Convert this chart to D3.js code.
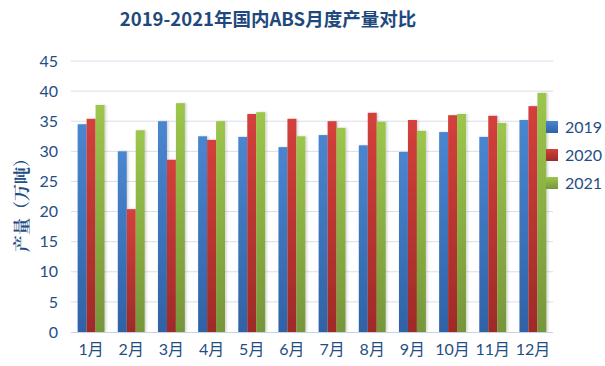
<!DOCTYPE html>
<html><head><meta charset="utf-8">
<script src="https://cdn.jsdelivr.net/npm/d3@7/dist/d3.min.js"></script>
<style>body{margin:0;background:#fff}svg{display:block}</style>
</head><body>
<script>
const months = ["1月","2月","3月","4月","5月","6月","7月","8月","9月","10月","11月","12月"];
const seriesNames = ["2019","2020","2021"];
const v2019 = [34.5,30.0,35.0,32.5,32.4,30.7,32.7,31.0,29.9,33.2,32.4,35.2];
const v2020 = [35.4,20.4,28.6,31.9,36.2,35.4,35.0,36.4,35.2,36.0,35.9,37.5];
const v2021 = [37.7,33.5,38.0,35.0,36.5,32.5,33.9,34.9,33.4,36.2,34.7,39.7];
const yTicks = [0,5,10,15,20,25,30,35,40,45];
const colors = [["#4a86d0","#2f62a6"],["#d4403c","#9e2b28"],["#9cc64c","#76963a"]];
const title = "2019-2021年国内ABS月度产量对比";
const yLabel = "产量（万吨）";

(function(){
const W=605,H=366;
const svg=d3.select("body").append("svg").attr("width",W).attr("height",H);
const defs=svg.append("defs");
colors.forEach((c,i)=>{
  const g=defs.append("linearGradient").attr("id","g"+i).attr("x1",0).attr("y1",0).attr("x2",0).attr("y2",1);
  g.append("stop").attr("offset","0%").attr("stop-color",c[0]);
  g.append("stop").attr("offset","100%").attr("stop-color",c[1]);
});
const f=defs.append("filter").attr("id","sh").attr("x","-20%").attr("y","-5%").attr("width","160%").attr("height","110%");
f.append("feDropShadow").attr("dx",1.5).attr("dy",0).attr("stdDeviation",1).attr("flood-color","#000").attr("flood-opacity",0.18);

const L=71,R=553,T=61,B=332;
const x=d3.scaleBand().domain(months).range([L,R]).paddingInner(0.33).paddingOuter(0.165);
const xs=d3.scaleBand().domain(seriesNames).range([0,x.bandwidth()]);
const y=d3.scaleLinear().domain([0,45]).range([B,T]);

const fontNum="'Lato','Noto Sans CJK SC',sans-serif";
const textCol="#1f4e84";

svg.append("g").selectAll("line").data(yTicks.filter(d=>d>0)).join("line")
  .attr("x1",L).attr("x2",R).attr("y1",d=>y(d)).attr("y2",d=>y(d))
  .attr("stroke","#d6dfeb").attr("stroke-width",1);

const ya=svg.append("g").attr("transform",`translate(${L},0)`).call(d3.axisLeft(y).tickValues(yTicks).tickSize(0).tickPadding(13));
ya.select(".domain").remove();
ya.selectAll("text").attr("font-family",fontNum).attr("font-size",16).attr("fill",textCol);

const data=[v2019,v2020,v2021];
const gm=svg.append("g").selectAll("g").data(months).join("g").attr("transform",d=>`translate(${x(d)},0)`);
gm.selectAll("rect").data((m,i)=>seriesNames.map((s,j)=>({s,j,v:data[j][i]}))).join("rect")
  .attr("x",d=>xs(d.s)).attr("width",xs.bandwidth()).attr("y",d=>y(d.v)).attr("height",d=>B-y(d.v))
  .attr("fill",d=>`url(#g${d.j})`).attr("filter","url(#sh)");

svg.append("line").attr("x1",L).attr("x2",R).attr("y1",B+0.5).attr("y2",B+0.5).attr("stroke","#c5d3e6").attr("stroke-width",1.2);
const xa=svg.append("g").attr("transform",`translate(0,${B})`).call(d3.axisBottom(x).tickSize(0).tickPadding(12));
xa.select(".domain").remove();
xa.selectAll("text").attr("font-family",fontNum).attr("font-size",16).attr("fill",textCol);

svg.append("text").attr("x",268).attr("y",26).attr("text-anchor","middle")
  .attr("font-family","'Noto Sans CJK SC',sans-serif").attr("font-weight","bold").attr("font-size",18.5)
  .attr("fill","#1f497d").text(title);

svg.append("text").attr("transform","translate(28,201) rotate(-90)").attr("text-anchor","middle")
  .attr("font-family","'Noto Serif CJK SC','Noto Sans CJK SC',serif").attr("font-weight","bold").attr("font-size",17).attr("fill",textCol).text(yLabel);

const lg=svg.append("g").selectAll("g").data(seriesNames).join("g").attr("transform",(d,i)=>`translate(546,${121+i*28})`);
lg.append("rect").attr("width",12).attr("height",12).attr("fill",(d,i)=>`url(#g${i})`);
lg.append("text").attr("x",19).attr("y",6).attr("dy","0.35em").attr("font-family",fontNum).attr("font-size",16).attr("fill",textCol).text(d=>d);
})();
</script>
</body></html>
